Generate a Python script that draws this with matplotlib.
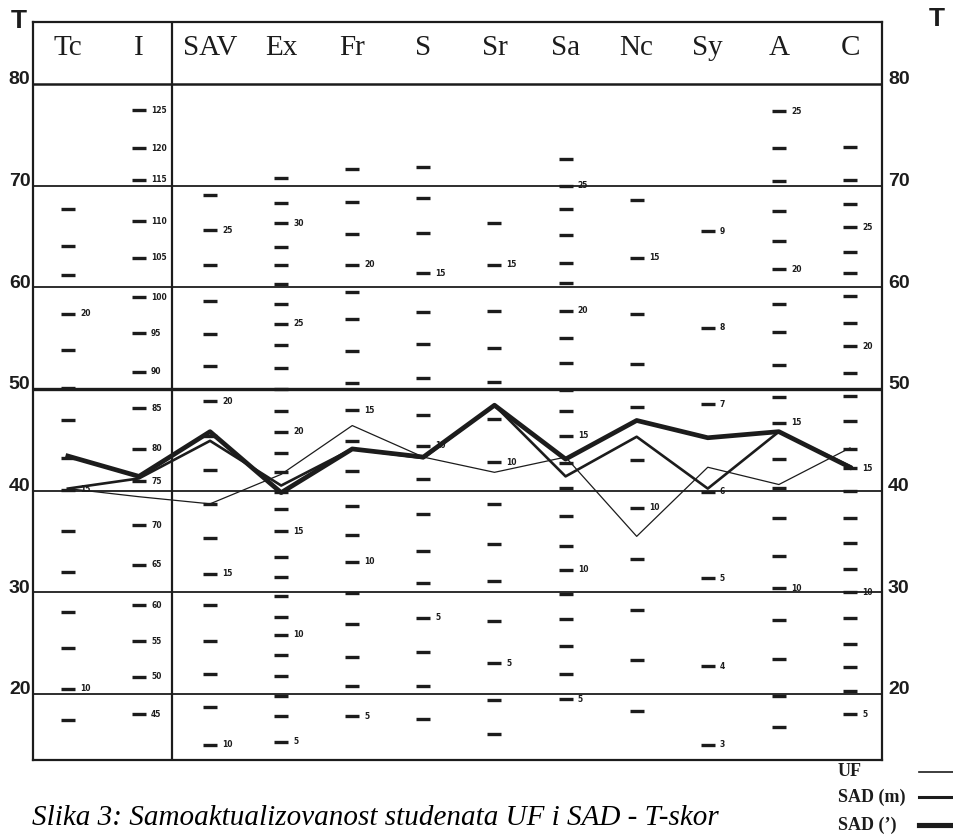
import matplotlib
matplotlib.use("Agg")
import matplotlib.pyplot as plt
from matplotlib.lines import Line2D

scales = ['Tc', 'I', 'SAV', 'Ex', 'Fr', 'S', 'Sr', 'Sa', 'Nc', 'Sy', 'A', 'C']

# profile lines, T-scores
uf = [40.2, 39.4, 38.7, 41.6, 46.4, 43.3, 41.8, 43.3, 35.5, 42.3, 40.6, 44.2]
sad_m = [40.2, 41.2, 44.9, 40.5, 44.1, 43.2, 48.4, 41.4, 45.3, 40.2, 45.8, 42.4]
sad_z = [43.4, 41.4, 45.8, 39.8, 44.1, 43.3, 48.4, 43.1, 46.9, 45.2, 45.8, 42.3]
series_names = ['UF', 'SAD (m)', 'SAD (\u2019)']

# raw-score marks on each scale (T position of each mark, top raw score, step)
tc_marks = [67.7, 64.1, 61.2, 57.4, 53.8, 50.1, 46.9, 43.2, 40.1, 36.0, 32.0, 28.1, 24.5, 20.5, 17.4]
i_marks = [77.4, 73.7, 70.6, 66.5, 62.9, 59.0, 55.5, 51.7, 48.1, 44.1, 40.9, 36.6, 32.7, 28.7, 25.2, 21.7, 18.0]
sav_marks = [69.1, 65.6, 62.2, 58.7, 55.4, 52.3, 48.8, 45.4, 42.0, 38.7, 35.3, 31.8, 28.7, 25.2, 22.0, 18.7, 15.0]
ex_marks = [70.8, 68.3, 66.3, 64.0, 62.2, 60.3, 58.4, 56.4, 54.3, 52.1, 50.0, 47.8, 45.8, 43.7, 41.8, 39.9,
            38.2, 36.0, 33.5, 31.5, 29.6, 27.6, 25.8, 23.8, 21.8, 19.8, 17.8, 15.3]
fr_marks = [71.6, 68.4, 65.2, 62.2, 59.5, 56.9, 53.7, 50.6, 47.9, 44.9, 41.9, 38.5, 35.6, 33.0, 29.9, 26.9, 23.6, 20.8, 17.8]
s_marks = [71.8, 68.8, 65.3, 61.4, 57.6, 54.4, 51.1, 47.4, 44.4, 41.1, 37.7, 34.1, 30.9, 27.5, 24.1, 20.8, 17.5]
sr_marks = [66.3, 62.2, 57.7, 54.0, 50.7, 47.0, 42.8, 38.7, 34.7, 31.1, 27.2, 23.0, 19.4, 16.1]
sa_marks = [72.6, 70.0, 67.7, 65.1, 62.4, 60.4, 57.7, 55.0, 52.6, 49.9, 47.8, 45.4, 42.7, 40.3, 37.5, 34.6,
            32.2, 29.8, 27.4, 24.7, 22.0, 19.5]
nc_marks = [68.6, 62.9, 57.4, 52.5, 48.2, 43.0, 38.3, 33.3, 28.3, 23.3, 18.3]
sy_marks = [65.5, 56.0, 48.5, 39.9, 31.4, 22.7, 15.0]
a_marks = [77.3, 73.7, 70.5, 67.5, 64.6, 61.8, 58.4, 55.6, 52.4, 49.2, 46.7, 43.1, 40.3, 37.3, 33.6, 30.4,
           27.3, 23.4, 19.8, 16.7]
c_marks = [73.8, 70.6, 68.2, 65.9, 63.5, 61.4, 59.1, 56.5, 54.2, 51.6, 49.3, 46.8, 44.1, 42.2, 40.0, 37.3,
           34.8, 32.3, 30.0, 27.5, 24.9, 22.6, 20.3, 18.0]
all_marks = [tc_marks, i_marks, sav_marks, ex_marks, fr_marks, s_marks, sr_marks, sa_marks,
             nc_marks, sy_marks, a_marks, c_marks]
raw_top = [23, 125, 26, 32, 23, 18, 16, 26, 16, 9, 25, 28]
raw_step = [1, 5, 1, 1, 1, 1, 1, 1, 1, 1, 1, 1]

t_ticks = [20, 30, 40, 50, 60, 70, 80]

ink = '#1c1c1c'
serif = ['Liberation Serif', 'DejaVu Serif']
sans = ['Liberation Sans', 'DejaVu Sans']

fig = plt.figure(figsize=(9.54, 8.36), dpi=100)
ax = fig.add_axes([33/954, 1-760/836, (882-33)/954, (760-22)/836])
ax.set_xlim(-0.49, 11.45)
ax.set_ylim(13.5, 86.1)
ax.set_xticks([])
ax.set_yticks([])
for sp in ax.spines.values():
    sp.set_linewidth(1.6)
    sp.set_color(ink)

for t in t_ticks:
    lw = 2.4 if t == 50 else (1.8 if t == 80 else 1.3)
    ax.axhline(t, color=ink, lw=lw, zorder=1)
    ax.text(-0.003, t + 0.4, str(t), transform=ax.get_yaxis_transform(), ha='right', va='center',
            fontsize=14, fontweight='bold', family=sans, color=ink)
    ax.text(1.007, t + 0.4, str(t), transform=ax.get_yaxis_transform(), ha='left', va='center',
            fontsize=14, fontweight='bold', family=sans, color=ink)
ax.axvline(1.46, color=ink, lw=1.6, zorder=1)

fig.text(19/954, 1-21/836, 'T', ha='center', va='center', fontsize=19, fontweight='bold',
         family=sans, color=ink)
fig.text(937/954, 1-19/836, 'T', ha='center', va='center', fontsize=19, fontweight='bold',
         family=sans, color=ink)

for k, name in enumerate(scales):
    ax.text(k, 83.5, name, ha='center', va='center', fontsize=21, family=serif, color=ink)
    marks = all_marks[k]
    ax.plot([k]*len(marks), marks, ls='none', marker='_', ms=10, mew=2.4, color=ink, zorder=2)
    for j, t in enumerate(marks):
        raw = raw_top[k] - j*raw_step[k]
        if raw % 5 == 0 or name == 'Sy':
            ax.text(k + 0.17, t, str(raw), ha='left', va='center', fontsize=5.5,
                    fontweight='bold', color=ink, zorder=2)

x = list(range(len(scales)))
widths = [0.9, 1.9, 3.4]
for vals, lw in zip([uf, sad_m, sad_z], widths):
    ax.plot(x, vals, color=ink, lw=lw, zorder=3)

# key in the lower right corner: label on the left, line sample on the right
key_y = [772, 797, 825]
for name, lw, yp in zip(series_names, widths, key_y):
    fy = 1 - yp/836
    fig.text(838/954, fy, name, ha='left', va='center', fontsize=13, fontweight='bold',
             family=serif, color=ink)
    fig.add_artist(Line2D([919/954, 1.0], [fy, fy], color=ink, lw=lw + 0.3))

fig.text(32/954, 1-818/836, 'Slika 3: Samoaktualizovanost studenata UF i SAD - T-skor',
         ha='left', va='center', fontsize=21, fontstyle='italic', family=serif, color='black')

fig.savefig('out.png', dpi=100, facecolor='white')
